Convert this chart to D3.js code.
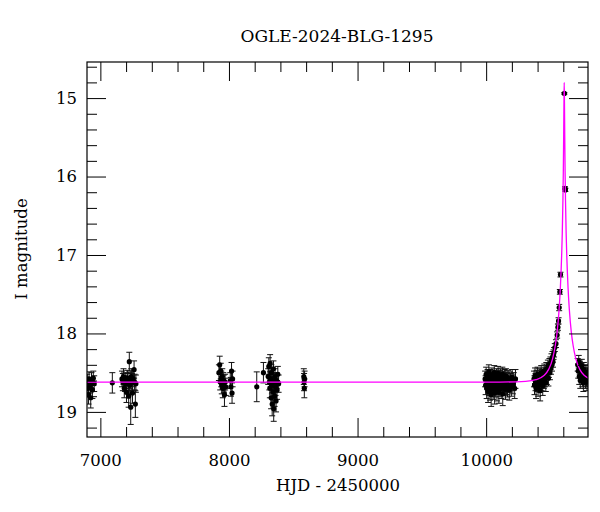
<!DOCTYPE html>
<html>
<head>
<meta charset="utf-8">
<script src="https://cdn.jsdelivr.net/npm/d3@7"></script>
<style>
  body { margin: 0; background: #fff; }
  text { font-family: "DejaVu Serif", serif; fill: #000; }
</style>
</head>
<body>
<script>
// Light curve data: [HJD - 2450000, I mag, error]
const obs2014 = [
  [6898, 18.62, 0.10], [6903, 18.70, 0.11], [6908, 18.78, 0.12], [6912, 18.58, 0.09],
  [6920, 18.66, 0.10], [6925, 18.82, 0.13], [6931, 18.60, 0.10], [6938, 18.72, 0.11],
  [6945, 18.57, 0.09], [6952, 18.64, 0.10]
];
const obs2015 = [
  [7093, 18.63, 0.13],
  [7168, 18.58, 0.10], [7175, 18.62, 0.11], [7180, 18.55, 0.10], [7186, 18.70, 0.12],
  [7192, 18.64, 0.10], [7198, 18.60, 0.10], [7203, 18.75, 0.13], [7210, 18.57, 0.10],
  [7215, 18.62, 0.11], [7220, 18.80, 0.14], [7225, 18.36, 0.12], [7228, 18.66, 0.11],
  [7232, 18.60, 0.10], [7236, 18.94, 0.22], [7240, 18.55, 0.10], [7245, 18.62, 0.11],
  [7250, 18.76, 0.13], [7255, 18.58, 0.10], [7262, 18.46, 0.11], [7266, 18.62, 0.10],
  [7272, 18.90, 0.17], [7276, 18.64, 0.11]
];
const obs2017 = [
  [7922, 18.50, 0.10], [7928, 18.40, 0.11], [7932, 18.62, 0.10], [7936, 18.48, 0.10],
  [7940, 18.58, 0.10], [7944, 18.66, 0.11], [7948, 18.55, 0.10], [7952, 18.70, 0.12],
  [7956, 18.60, 0.10], [7960, 18.64, 0.11], [7965, 18.78, 0.15], [7970, 18.62, 0.10],
  [7975, 18.68, 0.11], [8010, 18.60, 0.10], [8015, 18.68, 0.12], [8020, 18.48, 0.11],
  [8024, 18.76, 0.13], [8028, 18.58, 0.10]
];
const obs2018 = [
  [8216, 18.68, 0.19], [8268, 18.50, 0.13],
  [8305, 18.55, 0.10], [8310, 18.42, 0.11], [8314, 18.62, 0.10], [8318, 18.70, 0.12],
  [8320, 18.38, 0.11], [8324, 18.58, 0.10], [8328, 18.82, 0.14], [8330, 18.50, 0.10],
  [8334, 18.66, 0.11], [8336, 18.90, 0.15], [8340, 18.60, 0.10], [8342, 18.74, 0.12],
  [8346, 18.45, 0.10], [8348, 18.96, 0.16], [8352, 18.62, 0.11], [8355, 18.80, 0.13],
  [8358, 18.55, 0.10], [8362, 18.68, 0.11], [8366, 18.86, 0.14], [8370, 18.60, 0.10],
  [8374, 18.72, 0.12], [8380, 18.52, 0.10], [8386, 18.64, 0.11],
  [8582, 18.55, 0.10], [8584, 18.62, 0.11], [8586, 18.70, 0.12], [8588, 18.58, 0.10]
];
const obs2023 = [
  [9992, 18.58, 0.10], [9996, 18.66, 0.12], [10000, 18.52, 0.09], [10004, 18.70, 0.13],
  [10008, 18.61, 0.10], [10011, 18.55, 0.09], [10015, 18.74, 0.14], [10018, 18.63, 0.11],
  [10021, 18.49, 0.09], [10024, 18.67, 0.12], [10027, 18.60, 0.10], [10030, 18.72, 0.13],
  [10033, 18.56, 0.10], [10036, 18.64, 0.11], [10039, 18.78, 0.15], [10042, 18.59, 0.10],
  [10045, 18.53, 0.09], [10048, 18.68, 0.12], [10051, 18.62, 0.11], [10054, 18.71, 0.13],
  [10057, 18.57, 0.10], [10060, 18.65, 0.11], [10063, 18.50, 0.09], [10066, 18.76, 0.14],
  [10069, 18.61, 0.10], [10072, 18.58, 0.10], [10075, 18.69, 0.12], [10078, 18.63, 0.11],
  [10081, 18.54, 0.09], [10084, 18.73, 0.13], [10087, 18.60, 0.10], [10090, 18.66, 0.12],
  [10093, 18.51, 0.09], [10096, 18.62, 0.11], [10099, 18.75, 0.14], [10102, 18.57, 0.10],
  [10105, 18.64, 0.11], [10108, 18.68, 0.12], [10111, 18.55, 0.10], [10114, 18.61, 0.10],
  [10117, 18.70, 0.13], [10120, 18.59, 0.10], [10123, 18.65, 0.11], [10126, 18.52, 0.09],
  [10129, 18.77, 0.15], [10132, 18.62, 0.11], [10135, 18.58, 0.10], [10138, 18.67, 0.12],
  [10141, 18.60, 0.10], [10144, 18.56, 0.10], [10147, 18.63, 0.11], [10150, 18.71, 0.13],
  [10154, 18.54, 0.09], [10158, 18.66, 0.12], [10162, 18.60, 0.10], [10166, 18.69, 0.12],
  [10170, 18.57, 0.10], [10175, 18.64, 0.11], [10180, 18.72, 0.13], [10185, 18.59, 0.10],
  [10190, 18.62, 0.11], [10196, 18.68, 0.12], [10202, 18.56, 0.10], [10208, 18.65, 0.12],
  [10215, 18.61, 0.11], [10222, 18.70, 0.13], [10228, 18.58, 0.12]
];
const obs2024 = [
  [10372, 18.58, 0.10], [10376, 18.66, 0.12], [10380, 18.54, 0.10], [10384, 18.62, 0.11],
  [10388, 18.70, 0.13], [10392, 18.57, 0.10], [10396, 18.63, 0.11], [10400, 18.52, 0.09],
  [10404, 18.68, 0.12], [10408, 18.60, 0.10], [10412, 18.55, 0.10], [10416, 18.64, 0.11],
  [10420, 18.73, 0.13], [10424, 18.58, 0.10], [10428, 18.50, 0.09], [10432, 18.62, 0.11],
  [10436, 18.56, 0.10], [10440, 18.67, 0.12], [10444, 18.53, 0.09], [10448, 18.60, 0.10],
  [10452, 18.48, 0.09], [10456, 18.58, 0.10], [10460, 18.52, 0.09], [10464, 18.63, 0.11],
  [10468, 18.46, 0.09], [10472, 18.55, 0.10], [10476, 18.50, 0.09], [10480, 18.42, 0.08],
  [10484, 18.57, 0.10], [10488, 18.47, 0.09], [10492, 18.40, 0.08], [10496, 18.50, 0.09],
  [10500, 18.38, 0.08], [10504, 18.44, 0.08], [10508, 18.33, 0.07], [10512, 18.40, 0.08],
  [10516, 18.30, 0.07], [10520, 18.36, 0.07], [10524, 18.27, 0.06], [10528, 18.24, 0.06],
  [10534, 18.18, 0.05], [10543, 18.13, 0.05], [10552, 18.02, 0.04], [10558, 17.92, 0.04],
  [10563, 17.84, 0.04], [10568, 17.67, 0.04], [10573, 17.47, 0.03], [10578, 17.25, 0.03],
  [10608, 14.94, 0.01], [10613, 16.15, 0.02], [10616, 16.17, 0.02]
];
const obs2025 = [
  [10712, 18.40, 0.08], [10716, 18.48, 0.09], [10720, 18.36, 0.08], [10724, 18.55, 0.10],
  [10728, 18.44, 0.08], [10732, 18.60, 0.10], [10736, 18.47, 0.09], [10740, 18.52, 0.09],
  [10744, 18.41, 0.08], [10748, 18.58, 0.10], [10752, 18.50, 0.09], [10756, 18.63, 0.11],
  [10760, 18.46, 0.09], [10764, 18.55, 0.10], [10768, 18.52, 0.09], [10772, 18.60, 0.10],
  [10776, 18.49, 0.09], [10780, 18.57, 0.10], [10784, 18.62, 0.11], [10788, 18.54, 0.10],
  [10792, 18.58, 0.10]
];

// Model curve
const modelHJD = [6896, 9800, 10107, 10307, 10387, 10447, 10487, 10517, 10537, 10552,
  10567, 10577, 10587, 10592, 10597, 10600, 10603, 10605, 10607, 10609, 10611, 10614,
  10617, 10622, 10627, 10637, 10647, 10662, 10677, 10697, 10727, 10767, 10827];
const modelMag = [18.62, 18.62, 18.62, 18.61, 18.59, 18.54, 18.455, 18.32, 18.16, 17.98,
  17.70, 17.42, 17.01, 16.72, 16.30, 15.95, 15.46, 15.06, 14.80, 15.06, 15.46, 15.95,
  16.30, 16.72, 17.01, 17.42, 17.70, 17.98, 18.16, 18.32, 18.455, 18.54, 18.59];

const xTicks = [7000, 8000, 9000, 10000];
const yTicks = [15, 16, 17, 18, 19];

const width = 600, height = 512;
const mLeft = 87, mRight = 588, mTop = 62, mBottom = 437;

const svg = d3.select('body').append('svg')
    .attr('width', width)
    .attr('height', height);

const x = d3.scaleLinear().domain([6896, 10792]).range([mLeft, mRight]);
const y = d3.scaleLinear().domain([14.54, 19.32]).range([mTop, mBottom]);

const xMinor = d3.range(35, 54).map(d => d * 200).filter(d => d % 1000 !== 0);
const yMinor = d3.range(73, 97).map(d => d / 5).filter(d => Math.abs(d - Math.round(d)) > 0.01);

svg.append('defs').append('clipPath').attr('id', 'plot')
  .append('rect')
    .attr('x', mLeft).attr('y', mTop)
    .attr('width', mRight - mLeft).attr('height', mBottom - mTop);

const data = [].concat(obs2014, obs2015, obs2017, obs2018, obs2023, obs2024, obs2025);

const g = svg.append('g').attr('clip-path', 'url(#plot)');

// error bars
const bars = g.selectAll('g.err')
  .data(data)
  .join('g')
    .attr('class', 'err')
    .attr('stroke', '#111')
    .attr('stroke-width', 1);
bars.append('line')
    .attr('x1', d => x(d[0])).attr('x2', d => x(d[0]))
    .attr('y1', d => y(d[1] - d[2])).attr('y2', d => y(d[1] + d[2]));
bars.append('line')
    .attr('x1', d => x(d[0]) - 3).attr('x2', d => x(d[0]) + 3)
    .attr('y1', d => y(d[1] - d[2])).attr('y2', d => y(d[1] - d[2]));
bars.append('line')
    .attr('x1', d => x(d[0]) - 3).attr('x2', d => x(d[0]) + 3)
    .attr('y1', d => y(d[1] + d[2])).attr('y2', d => y(d[1] + d[2]));

g.selectAll('circle')
  .data(data)
  .join('circle')
    .attr('cx', d => x(d[0]))
    .attr('cy', d => y(d[1]))
    .attr('r', 2.6)
    .attr('fill', '#000');

// model
const line = d3.line()
    .x(d => x(d[0]))
    .y(d => y(d[1]))
    .curve(d3.curveMonotoneX);
g.append('path')
    .datum(modelHJD.map((t, i) => [t, modelMag[i]]))
    .attr('fill', 'none')
    .attr('stroke', '#ff00ff')
    .attr('stroke-width', 1.3)
    .attr('d', line);

// axes, ticks pointing inward on all four sides
function ticks(axis, vals, size, tr, labels) {
  const a = svg.append('g')
      .attr('transform', tr)
      .call(axis.tickValues(vals).tickSize(size).tickPadding(labels ? 17 : 0)
        .tickFormat(labels ? d3.format('d') : ''));
  a.select('.domain').remove();
  a.selectAll('line').attr('stroke', '#000');
  a.selectAll('text').style('font-size', '16.5px').attr('fill', '#000');
  return a;
}
ticks(d3.axisBottom(x), xTicks, -19, `translate(0,${mBottom})`, true);
ticks(d3.axisBottom(x), xMinor, -10, `translate(0,${mBottom})`, false);
ticks(d3.axisTop(x), xTicks, -19, `translate(0,${mTop})`, false);
ticks(d3.axisTop(x), xMinor, -10, `translate(0,${mTop})`, false);
const yl = ticks(d3.axisLeft(y), yTicks, -19, `translate(${mLeft},0)`, true);
yl.selectAll('text').attr('x', -10);
ticks(d3.axisLeft(y), yMinor, -10, `translate(${mLeft},0)`, false);
ticks(d3.axisRight(y), yTicks, -19, `translate(${mRight},0)`, false);
ticks(d3.axisRight(y), yMinor, -10, `translate(${mRight},0)`, false);

svg.append('rect')
    .attr('x', mLeft).attr('y', mTop)
    .attr('width', mRight - mLeft).attr('height', mBottom - mTop)
    .attr('fill', 'none')
    .attr('stroke', '#000')
    .attr('stroke-width', 1.2);

svg.append('text')
    .attr('x', 337).attr('y', 42)
    .attr('text-anchor', 'middle')
    .style('font-size', '17px')
    .text('OGLE-2024-BLG-1295');

svg.append('text')
    .attr('x', 338).attr('y', 491)
    .attr('text-anchor', 'middle')
    .style('font-size', '16.5px')
    .text('HJD - 2450000');

svg.append('text')
    .attr('transform', 'translate(27,249) rotate(-90)')
    .attr('text-anchor', 'middle')
    .style('font-size', '16.5px')
    .text('I magnitude');
</script>
</body>
</html>
